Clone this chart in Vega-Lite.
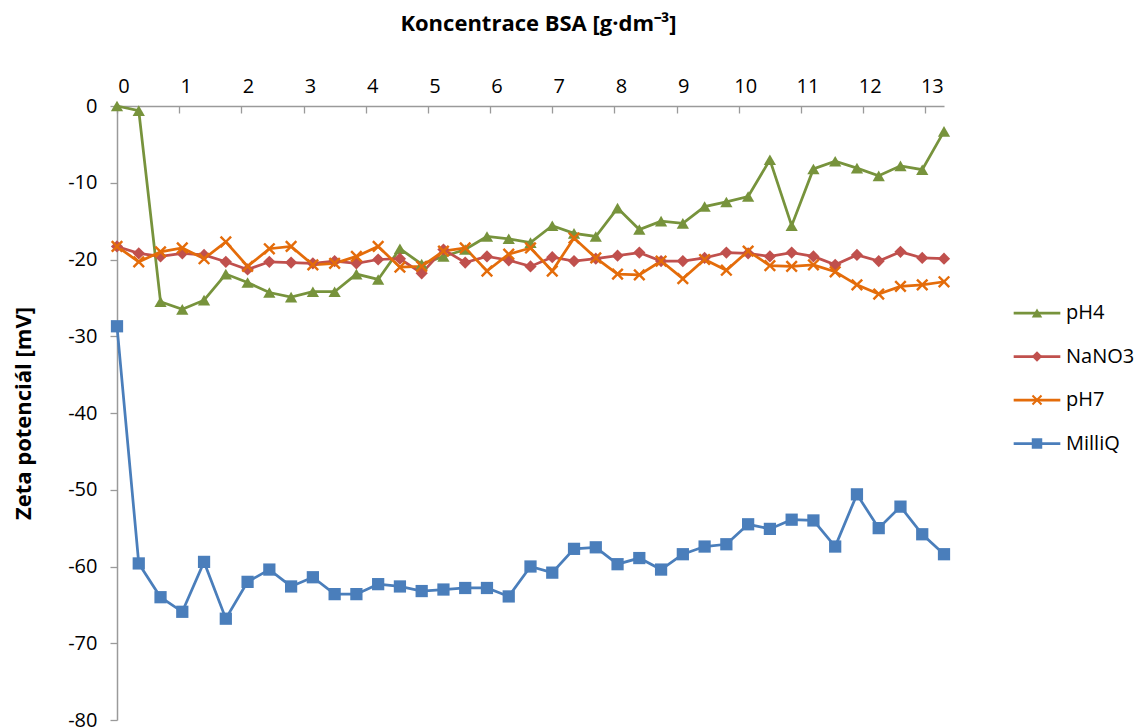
{
  "$schema": "https://vega.github.io/schema/vega-lite/v6.json",
  "width": 827,
  "height": 614,
  "autosize": {"type": "none"},
  "padding": {"left": 117, "top": 106, "right": 194, "bottom": 8},
  "background": "white",
  "config": {"view": {"stroke": null}},
  "data": {"values": [
    {"konc":0,"serie":"pH4","zeta":0.0},{"konc":0.35,"serie":"pH4","zeta":-0.6},{"konc":0.7,"serie":"pH4","zeta":-25.5},{"konc":1.05,"serie":"pH4","zeta":-26.5},{"konc":1.4,"serie":"pH4","zeta":-25.3},{"konc":1.75,"serie":"pH4","zeta":-21.9},{"konc":2.1,"serie":"pH4","zeta":-23.0},{"konc":2.45,"serie":"pH4","zeta":-24.3},{"konc":2.8,"serie":"pH4","zeta":-24.9},{"konc":3.15,"serie":"pH4","zeta":-24.2},{"konc":3.5,"serie":"pH4","zeta":-24.2},{"konc":3.85,"serie":"pH4","zeta":-21.9},{"konc":4.2,"serie":"pH4","zeta":-22.6},{"konc":4.55,"serie":"pH4","zeta":-18.6},{"konc":4.9,"serie":"pH4","zeta":-20.6},{"konc":5.25,"serie":"pH4","zeta":-19.6},{"konc":5.6,"serie":"pH4","zeta":-18.7},{"konc":5.95,"serie":"pH4","zeta":-17.0},{"konc":6.3,"serie":"pH4","zeta":-17.3},{"konc":6.65,"serie":"pH4","zeta":-17.8},{"konc":7.0,"serie":"pH4","zeta":-15.6},{"konc":7.35,"serie":"pH4","zeta":-16.6},{"konc":7.7,"serie":"pH4","zeta":-17.0},{"konc":8.05,"serie":"pH4","zeta":-13.3},{"konc":8.4,"serie":"pH4","zeta":-16.1},{"konc":8.75,"serie":"pH4","zeta":-15.0},{"konc":9.1,"serie":"pH4","zeta":-15.3},{"konc":9.45,"serie":"pH4","zeta":-13.1},{"konc":9.8,"serie":"pH4","zeta":-12.5},{"konc":10.15,"serie":"pH4","zeta":-11.8},{"konc":10.5,"serie":"pH4","zeta":-7.0},{"konc":10.85,"serie":"pH4","zeta":-15.6},{"konc":11.2,"serie":"pH4","zeta":-8.2},{"konc":11.55,"serie":"pH4","zeta":-7.2},{"konc":11.9,"serie":"pH4","zeta":-8.1},{"konc":12.25,"serie":"pH4","zeta":-9.1},{"konc":12.6,"serie":"pH4","zeta":-7.8},{"konc":12.95,"serie":"pH4","zeta":-8.3},{"konc":13.3,"serie":"pH4","zeta":-3.3},
    {"konc":0,"serie":"NaNO3","zeta":-18.3},{"konc":0.35,"serie":"NaNO3","zeta":-19.2},{"konc":0.7,"serie":"NaNO3","zeta":-19.6},{"konc":1.05,"serie":"NaNO3","zeta":-19.2},{"konc":1.4,"serie":"NaNO3","zeta":-19.4},{"konc":1.75,"serie":"NaNO3","zeta":-20.3},{"konc":2.1,"serie":"NaNO3","zeta":-21.3},{"konc":2.45,"serie":"NaNO3","zeta":-20.3},{"konc":2.8,"serie":"NaNO3","zeta":-20.4},{"konc":3.15,"serie":"NaNO3","zeta":-20.5},{"konc":3.5,"serie":"NaNO3","zeta":-20.2},{"konc":3.85,"serie":"NaNO3","zeta":-20.5},{"konc":4.2,"serie":"NaNO3","zeta":-20.0},{"konc":4.55,"serie":"NaNO3","zeta":-19.9},{"konc":4.9,"serie":"NaNO3","zeta":-21.8},{"konc":5.25,"serie":"NaNO3","zeta":-18.7},{"konc":5.6,"serie":"NaNO3","zeta":-20.4},{"konc":5.95,"serie":"NaNO3","zeta":-19.6},{"konc":6.3,"serie":"NaNO3","zeta":-20.1},{"konc":6.65,"serie":"NaNO3","zeta":-20.9},{"konc":7.0,"serie":"NaNO3","zeta":-19.7},{"konc":7.35,"serie":"NaNO3","zeta":-20.2},{"konc":7.7,"serie":"NaNO3","zeta":-19.9},{"konc":8.05,"serie":"NaNO3","zeta":-19.5},{"konc":8.4,"serie":"NaNO3","zeta":-19.1},{"konc":8.75,"serie":"NaNO3","zeta":-20.2},{"konc":9.1,"serie":"NaNO3","zeta":-20.2},{"konc":9.45,"serie":"NaNO3","zeta":-19.8},{"konc":9.8,"serie":"NaNO3","zeta":-19.1},{"konc":10.15,"serie":"NaNO3","zeta":-19.2},{"konc":10.5,"serie":"NaNO3","zeta":-19.6},{"konc":10.85,"serie":"NaNO3","zeta":-19.1},{"konc":11.2,"serie":"NaNO3","zeta":-19.6},{"konc":11.55,"serie":"NaNO3","zeta":-20.7},{"konc":11.9,"serie":"NaNO3","zeta":-19.4},{"konc":12.25,"serie":"NaNO3","zeta":-20.2},{"konc":12.6,"serie":"NaNO3","zeta":-19.0},{"konc":12.95,"serie":"NaNO3","zeta":-19.8},{"konc":13.3,"serie":"NaNO3","zeta":-19.9},
    {"konc":0,"serie":"pH7","zeta":-18.3},{"konc":0.35,"serie":"pH7","zeta":-20.3},{"konc":0.7,"serie":"pH7","zeta":-19.0},{"konc":1.05,"serie":"pH7","zeta":-18.5},{"konc":1.4,"serie":"pH7","zeta":-19.9},{"konc":1.75,"serie":"pH7","zeta":-17.7},{"konc":2.1,"serie":"pH7","zeta":-20.9},{"konc":2.45,"serie":"pH7","zeta":-18.6},{"konc":2.8,"serie":"pH7","zeta":-18.3},{"konc":3.15,"serie":"pH7","zeta":-20.7},{"konc":3.5,"serie":"pH7","zeta":-20.5},{"konc":3.85,"serie":"pH7","zeta":-19.6},{"konc":4.2,"serie":"pH7","zeta":-18.3},{"konc":4.55,"serie":"pH7","zeta":-21.0},{"konc":4.9,"serie":"pH7","zeta":-20.9},{"konc":5.25,"serie":"pH7","zeta":-18.9},{"konc":5.6,"serie":"pH7","zeta":-18.5},{"konc":5.95,"serie":"pH7","zeta":-21.5},{"konc":6.3,"serie":"pH7","zeta":-19.3},{"konc":6.65,"serie":"pH7","zeta":-18.5},{"konc":7.0,"serie":"pH7","zeta":-21.5},{"konc":7.35,"serie":"pH7","zeta":-17.2},{"konc":7.7,"serie":"pH7","zeta":-19.8},{"konc":8.05,"serie":"pH7","zeta":-21.9},{"konc":8.4,"serie":"pH7","zeta":-22.0},{"konc":8.75,"serie":"pH7","zeta":-20.2},{"konc":9.1,"serie":"pH7","zeta":-22.5},{"konc":9.45,"serie":"pH7","zeta":-20.0},{"konc":9.8,"serie":"pH7","zeta":-21.4},{"konc":10.15,"serie":"pH7","zeta":-18.9},{"konc":10.5,"serie":"pH7","zeta":-20.8},{"konc":10.85,"serie":"pH7","zeta":-20.9},{"konc":11.2,"serie":"pH7","zeta":-20.7},{"konc":11.55,"serie":"pH7","zeta":-21.6},{"konc":11.9,"serie":"pH7","zeta":-23.3},{"konc":12.25,"serie":"pH7","zeta":-24.5},{"konc":12.6,"serie":"pH7","zeta":-23.5},{"konc":12.95,"serie":"pH7","zeta":-23.3},{"konc":13.3,"serie":"pH7","zeta":-22.9},
    {"konc":0,"serie":"MilliQ","zeta":-28.7},{"konc":0.35,"serie":"MilliQ","zeta":-59.6},{"konc":0.7,"serie":"MilliQ","zeta":-64.0},{"konc":1.05,"serie":"MilliQ","zeta":-65.9},{"konc":1.4,"serie":"MilliQ","zeta":-59.4},{"konc":1.75,"serie":"MilliQ","zeta":-66.8},{"konc":2.1,"serie":"MilliQ","zeta":-62.0},{"konc":2.45,"serie":"MilliQ","zeta":-60.4},{"konc":2.8,"serie":"MilliQ","zeta":-62.6},{"konc":3.15,"serie":"MilliQ","zeta":-61.4},{"konc":3.5,"serie":"MilliQ","zeta":-63.6},{"konc":3.85,"serie":"MilliQ","zeta":-63.6},{"konc":4.2,"serie":"MilliQ","zeta":-62.3},{"konc":4.55,"serie":"MilliQ","zeta":-62.6},{"konc":4.9,"serie":"MilliQ","zeta":-63.2},{"konc":5.25,"serie":"MilliQ","zeta":-63.0},{"konc":5.6,"serie":"MilliQ","zeta":-62.8},{"konc":5.95,"serie":"MilliQ","zeta":-62.8},{"konc":6.3,"serie":"MilliQ","zeta":-63.9},{"konc":6.65,"serie":"MilliQ","zeta":-60.0},{"konc":7.0,"serie":"MilliQ","zeta":-60.8},{"konc":7.35,"serie":"MilliQ","zeta":-57.7},{"konc":7.7,"serie":"MilliQ","zeta":-57.5},{"konc":8.05,"serie":"MilliQ","zeta":-59.7},{"konc":8.4,"serie":"MilliQ","zeta":-58.9},{"konc":8.75,"serie":"MilliQ","zeta":-60.4},{"konc":9.1,"serie":"MilliQ","zeta":-58.4},{"konc":9.45,"serie":"MilliQ","zeta":-57.4},{"konc":9.8,"serie":"MilliQ","zeta":-57.1},{"konc":10.15,"serie":"MilliQ","zeta":-54.5},{"konc":10.5,"serie":"MilliQ","zeta":-55.1},{"konc":10.85,"serie":"MilliQ","zeta":-53.9},{"konc":11.2,"serie":"MilliQ","zeta":-54.0},{"konc":11.55,"serie":"MilliQ","zeta":-57.4},{"konc":11.9,"serie":"MilliQ","zeta":-50.6},{"konc":12.25,"serie":"MilliQ","zeta":-55.0},{"konc":12.6,"serie":"MilliQ","zeta":-52.2},{"konc":12.95,"serie":"MilliQ","zeta":-55.8},{"konc":13.3,"serie":"MilliQ","zeta":-58.4}
  ]},
  "encoding": {
    "x": {
      "field": "konc", "type": "quantitative",
      "scale": {"domain": [0, 13.3], "nice": false, "zero": false},
      "axis": {
        "orient": "top",
        "values": [0,1,2,3,4,5,6,7,8,9,10,11,12,13],
        "format": "d",
        "title": "Koncentrace BSA [g·dm⁻³]",
        "titleFont": "Open Sans", "titleFontSize": 22, "titleFontWeight": "bold", "titleColor": "#000000",
        "titleX": 421, "titleY": -76, "titleBaseline": "alphabetic", "titleAlign": "center",
        "labelFont": "Open Sans", "labelFontSize": 20, "labelColor": "#000000",
        "labelOffset": 6.5, "labelPadding": 21, "labelBaseline": "alphabetic",
        "labelFlush": false, "labelOverlap": false,
        "tickSize": -7, "tickColor": "#9a9a9a", "tickWidth": 1.3,
        "domainColor": "#9a9a9a", "domainWidth": 1.5,
        "grid": false
      }
    },
    "y": {
      "field": "zeta", "type": "quantitative",
      "scale": {"domain": [-80, 0], "nice": false},
      "axis": {
        "orient": "left",
        "values": [0,-10,-20,-30,-40,-50,-60,-70,-80],
        "labelExpr": "'' + datum.value",
        "title": "Zeta potenciál [mV]",
        "titleFont": "Open Sans", "titleFontSize": 22, "titleFontWeight": "bold", "titleColor": "#000000",
        "titleX": -87, "titleBaseline": "alphabetic", "titleAlign": "center", "titleAngle": -90,
        "labelFont": "Open Sans", "labelFontSize": 20, "labelColor": "#000000",
        "labelPadding": 13, "labelBaseline": "middle",
        "labelFlush": false, "labelOverlap": false,
        "tickSize": 7, "tickColor": "#9a9a9a", "tickWidth": 1.3,
        "domainColor": "#9a9a9a", "domainWidth": 1.5,
        "grid": false
      }
    }
  },
  "layer": [
    {
      "mark": {"type": "line", "strokeWidth": 2.75},
      "encoding": {
        "stroke": {
          "field": "serie", "type": "nominal",
          "sort": ["pH4","NaNO3","pH7","MilliQ"],
          "scale": {"range": ["#77933C","#C0504D","#E46C0A","#4A7EBB"]},
          "legend": {
            "title": null, "orient": "none", "legendX": 910, "legendY": 197, "padding": 0,
            "symbolType": "M-4,0H4", "symbolSize": 136, "symbolStrokeWidth": 2.75,
            "labelFont": "Open Sans", "labelFontSize": 20, "labelColor": "#000000",
            "labelOffset": 19, "rowPadding": 23.5
          }
        }
      }
    },
    {
      "mark": {"type": "point", "filled": true, "size": 150, "opacity": 1},
      "encoding": {
        "fill": {
          "field": "serie", "type": "nominal",
          "scale": {"domain": ["pH4","NaNO3","pH7","MilliQ"], "range": ["#77933C","#C0504D","#E46C0A","#4A7EBB"]},
          "legend": {
            "title": null, "orient": "none", "legendX": 910, "legendY": 197, "padding": 0,
            "symbolSize": 110, "symbolStrokeWidth": 0,
            "labelFont": "Open Sans", "labelFontSize": 20, "labelOpacity": 0,
            "labelOffset": 19, "rowPadding": 23.5
          }
        },
        "shape": {
          "field": "serie", "type": "nominal",
          "scale": {"domain": ["pH4","NaNO3","pH7","MilliQ"], "range": ["triangle-up","diamond","M-1,-0.72L-0.72,-1L0,-0.28L0.72,-1L1,-0.72L0.28,0L1,0.72L0.72,1L0,0.28L-0.72,1L-1,0.72L-0.28,0Z","square"]},
          "legend": {
            "title": null, "orient": "none", "legendX": 910, "legendY": 197, "padding": 0,
            "symbolSize": 110, "symbolStrokeWidth": 0,
            "labelFont": "Open Sans", "labelFontSize": 20, "labelOpacity": 0,
            "labelOffset": 19, "rowPadding": 23.5
          }
        }
      }
    }
  ]
}
